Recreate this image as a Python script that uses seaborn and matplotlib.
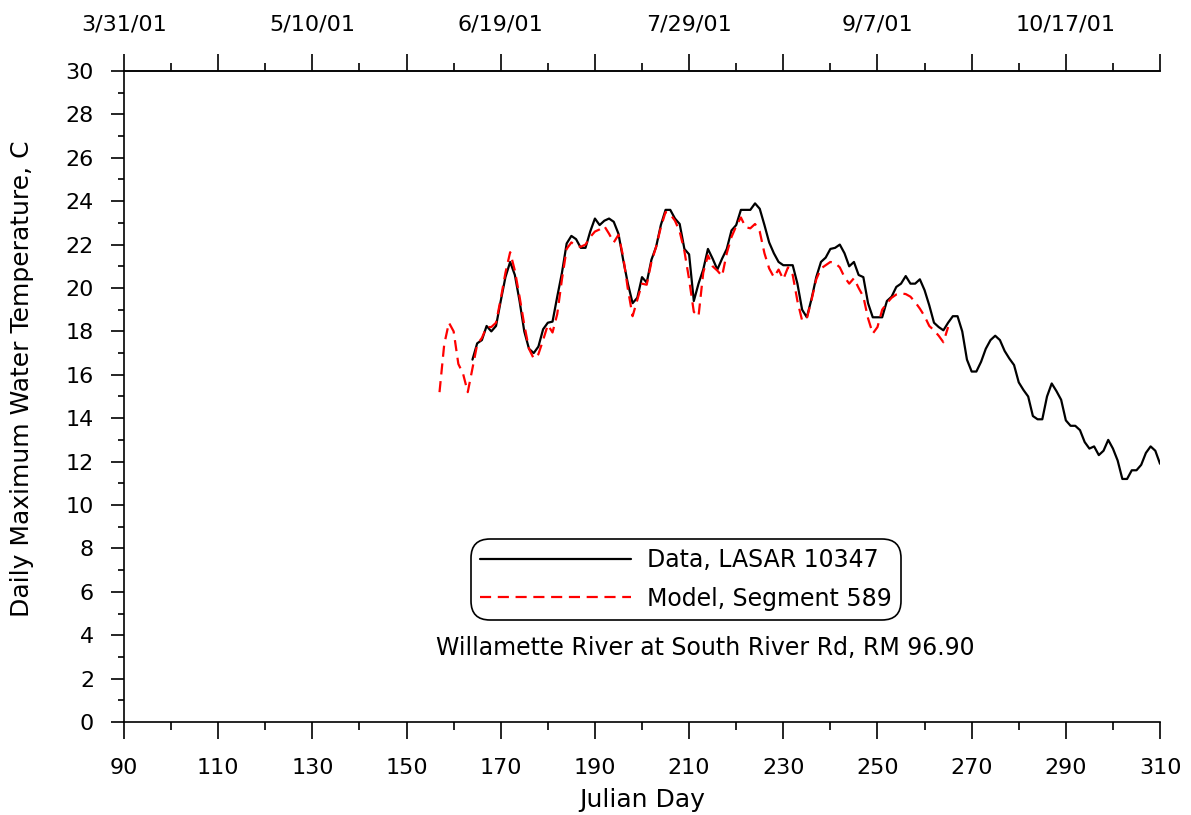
import numpy as np
import pandas as pd
import matplotlib
matplotlib.use("Agg")
import matplotlib.pyplot as plt
import seaborn as sns
from matplotlib.ticker import FixedLocator

# Observed daily max temperature (LASAR 10347), Julian days 164-310
data_days = list(range(164, 311))
data_temp = [
    16.7, 17.45, 17.6, 18.25, 18.0, 18.25, 19.4, 20.5, 21.2, 20.6,
    19.4, 18.0, 17.2, 17.0, 17.3, 18.1, 18.4, 18.45, 19.6, 20.7,
    22.05, 22.4, 22.25, 21.85, 21.85, 22.6, 23.2, 22.9, 23.1, 23.2,
    23.05, 22.5, 21.3, 20.2, 19.3, 19.55, 20.5, 20.25, 21.3, 21.9,
    22.9, 23.6, 23.6, 23.2, 22.95, 21.8, 21.55, 19.4, 20.2, 20.85,
    21.8, 21.35, 20.85, 21.35, 21.8, 22.65, 22.9, 23.6, 23.6, 23.6,
    23.9, 23.65, 22.9, 22.1, 21.6, 21.2, 21.05, 21.05, 21.05, 20.2,
    19.0, 18.65, 19.5, 20.5, 21.2, 21.4, 21.8, 21.85, 22.0, 21.6,
    21.0, 21.2, 20.6, 20.5, 19.3, 18.65, 18.65, 18.65, 19.4, 19.6,
    20.05, 20.2, 20.55, 20.2, 20.2, 20.4, 19.9, 19.2, 18.4, 18.2,
    18.05, 18.4, 18.7, 18.7, 18.0, 16.7, 16.15, 16.15, 16.6, 17.2,
    17.6, 17.8, 17.6, 17.1, 16.75, 16.45, 15.65, 15.3, 15.0, 14.1,
    13.95, 13.95, 15.0, 15.6, 15.25, 14.85, 13.9, 13.65, 13.65, 13.45,
    12.9, 12.6, 12.7, 12.3, 12.5, 13.0, 12.6, 12.05, 11.2, 11.2,
    11.6, 11.6, 11.85, 12.4, 12.7, 12.5, 11.9,
]

# Model output (Segment 589), Julian days 157-265
model_days = list(range(157, 266))
model_temp = [
    15.2, 17.4, 18.4, 18.0, 16.5, 16.05, 15.2, 16.3, 17.4, 17.7,
    18.2, 18.2, 18.4, 19.5, 20.7, 21.65, 20.8, 19.6, 18.3, 17.2,
    16.75, 16.95, 17.6, 18.3, 17.95, 18.8, 20.4, 21.8, 22.1, 21.95,
    21.9, 22.0, 22.35, 22.6, 22.7, 22.85, 22.5, 22.1, 22.45, 21.45,
    19.95, 18.7, 19.45, 20.2, 20.15, 21.2, 21.9, 22.8, 23.5, 23.4,
    23.1, 22.6, 21.7, 20.4, 18.9, 18.7, 20.7, 21.5, 21.0, 20.8,
    20.55, 21.6, 22.35, 22.85, 23.25, 22.8, 22.75, 22.95, 22.6, 21.6,
    20.9, 20.5, 20.85, 20.4, 20.95, 20.6, 19.4, 18.5, 18.6, 19.45,
    20.4, 20.9, 21.05, 21.2, 21.15, 20.95, 20.5, 20.2, 20.45, 20.0,
    19.6, 18.6, 17.9, 18.2, 19.0, 19.3, 19.55, 19.7, 19.75, 19.72,
    19.6, 19.35, 19.05, 18.7, 18.25, 18.05, 17.8, 17.5, 18.2,
]

x_major = [90, 110, 130, 150, 170, 190, 210, 230, 250, 270, 290, 310]
x_minor = [100, 120, 140, 160, 180, 200, 220, 240, 260, 280, 300]
y_major = [0, 2, 4, 6, 8, 10, 12, 14, 16, 18, 20, 22, 24, 26, 28, 30]
y_minor = [1, 3, 5, 7, 9, 11, 13, 15, 17, 19, 21, 23, 25, 27, 29]
top_tick_labels = ["3/31/01", "", "5/10/01", "", "6/19/01", "", "7/29/01", "",
                   "9/7/01", "", "10/17/01", ""]

sns.set_style("white")
plt.rcParams['font.family'] = ['DejaVu Sans']
plt.rcParams['text.color'] = 'black'
plt.rcParams['axes.labelcolor'] = 'black'
plt.rcParams['xtick.color'] = 'black'
plt.rcParams['ytick.color'] = 'black'

df_data = pd.DataFrame({'day': data_days, 'temp': data_temp})
df_model = pd.DataFrame({'day': model_days, 'temp': model_temp})

fig = plt.figure(figsize=(11.91, 8.15), dpi=100)
ax = fig.add_axes([0.1041, 0.1141, 0.8699, 0.7988])

sns.lineplot(data=df_data, x='day', y='temp', ax=ax, color='black',
             linewidth=1.6, label='Data, LASAR 10347')
sns.lineplot(data=df_model, x='day', y='temp', ax=ax, color='red',
             linewidth=1.6, linestyle=(0, (5, 3)), label='Model, Segment 589')

ax.set_xlim(90, 310)
ax.set_ylim(0, 30)

# bottom / left axes
ax.xaxis.set_major_locator(FixedLocator(x_major))
ax.xaxis.set_minor_locator(FixedLocator(x_minor))
ax.yaxis.set_major_locator(FixedLocator(y_major))
ax.yaxis.set_minor_locator(FixedLocator(y_minor))
ax.tick_params(axis='x', which='major', direction='out', length=12, width=1.2,
               pad=14, labelsize=16, bottom=True, top=False)
ax.tick_params(axis='x', which='minor', direction='out', length=6, width=1.2,
               bottom=True, top=False)
ax.tick_params(axis='y', which='major', direction='out', length=9.5, width=1.2,
               pad=12, labelsize=16, left=True)
ax.tick_params(axis='y', which='minor', direction='out', length=4, width=1.2,
               left=True)

for side in ['left', 'bottom', 'top']:
    ax.spines[side].set_linewidth(1.2)
    ax.spines[side].set_color('black')
ax.spines['right'].set_visible(False)

ax.set_xlabel('Julian Day', fontsize=18, labelpad=7)
ax.set_ylabel('Daily Maximum Water Temperature, C', fontsize=18)
ax.yaxis.set_label_coords(-0.087, 0.528)

# top date axis
top = ax.secondary_xaxis('top')
top.xaxis.set_major_locator(FixedLocator(x_major))
top.set_xticklabels(top_tick_labels)
top.xaxis.set_minor_locator(FixedLocator(x_minor))
top.tick_params(axis='x', which='major', direction='out', length=12, width=1.2,
                pad=14, labelsize=16, colors='black')
top.tick_params(axis='x', which='minor', direction='out', length=6, width=1.2,
                colors='black')
top.spines['top'].set_linewidth(1.2)

leg = ax.legend(loc='upper center', bbox_to_anchor=(0.5425, 0.281),
                fontsize=17, frameon=True, fancybox=True, handlelength=6.4,
                handletextpad=0.7, labelspacing=0.62, borderpad=0.38,
                borderaxespad=0)
frame = leg.get_frame()
frame.set_edgecolor('black')
frame.set_linewidth(1.2)
frame.set_boxstyle('round', pad=0, rounding_size=0.8)
frame.set_alpha(1)
for t in leg.get_texts():
    t.set_color('black')

ax.text(0.561, 0.1137, 'Willamette River at South River Rd, RM 96.90',
        transform=ax.transAxes, ha='center', va='center', fontsize=17,
        color='black')

fig.savefig('out.png', dpi=100)
